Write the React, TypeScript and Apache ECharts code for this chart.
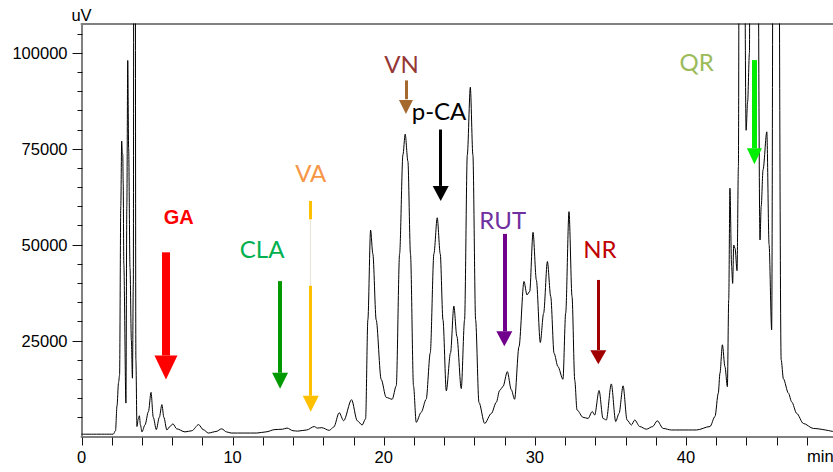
import React, { useEffect, useRef } from "react";
import * as echarts from "echarts";

// Chromatogram trace: [time (min), signal (uV)]
const traceTimes = [
  0, 2.1, 2.25, 2.35, 2.45, 2.52, 2.6, 2.66, 2.7, 2.73, 2.76, 2.8, 2.94, 3.0, 3.06, 3.12, 3.21, 3.3, 3.37, 3.43, 3.5, 3.6, 3.67,
  3.75, 3.83, 3.9, 4.0, 4.2, 4.43, 4.6, 4.75, 4.95, 5.15, 5.32, 5.45, 5.65, 5.85, 6.05, 6.3, 6.85, 7.3, 7.75, 8.05, 8.4, 8.9,
  9.28, 9.6, 9.9, 11.6, 12.2, 12.8, 13.3, 13.6, 14.0, 14.3, 14.9, 15.4, 15.6, 15.9, 16.4, 16.7, 17.05, 17.35, 17.87, 18.25,
  18.57, 18.8, 18.95, 19.13, 19.28, 19.5, 19.83, 20.16, 20.56, 20.83, 21.05, 21.27, 21.42, 21.6, 21.77, 21.97, 22.15, 22.48,
  22.81, 23.08, 23.32, 23.54, 23.74, 23.92, 24.14, 24.42, 24.64, 24.84, 25.13, 25.35, 25.53, 25.73, 25.9, 26.08, 26.3, 26.68,
  27.12, 27.45, 27.67, 27.89, 28.18, 28.44, 28.66, 28.95, 29.28, 29.48, 29.66, 29.88, 30.1, 30.36, 30.58, 30.83, 31.05, 31.27,
  31.53, 31.86, 32.04, 32.26, 32.46, 32.64, 32.79, 33.19, 33.52, 33.8, 33.96, 34.25, 34.51, 34.73, 35.06, 35.35, 35.57, 35.84,
  36.1, 36.39, 36.61, 36.94, 37.38, 37.8, 38.1, 38.49, 39.04, 39.6, 40.7, 41.59, 41.92, 42.14, 42.25, 42.41, 42.58, 42.74,
  42.83, 42.91, 43.02, 43.09, 43.16, 43.25, 43.38, 43.47, 43.55, 43.75, 43.98, 44.08, 44.2, 44.3, 44.6, 44.9, 44.98, 45.1,
  45.35, 45.5, 45.67, 45.85, 46.0, 46.3, 46.45, 46.78, 47.0, 47.33, 47.77, 48.43, 49.73,
];
const traceValues = [
  600, 600, 1500, 8000, 14000, 16000, 60000, 77000, 74000, 73500, 66000, 45000, 8700, 60000, 98000, 75000, 44000, 25000, 15200, 40000, 400000, 20000, 2600,
  4500, 5400, 3000, 1200, 3000, 6500, 11500, 5000, 1800, 5000, 8300, 5000, 1700, 2600, 3300, 2000, 1200, 1500, 3100, 1800, 900, 1300,
  2000, 1200, 900, 900, 1200, 1800, 1900, 2200, 1500, 1400, 1700, 2600, 2200, 2300, 1600, 2500, 6200, 4100, 9600, 4100,
  3000, 4600, 30400, 53800, 47600, 30400, 14900, 10200, 9700, 13200, 47600, 73400, 78800, 71700, 47600, 13200, 3700, 6300,
  9700, 21800, 47600, 57000, 47600, 30400, 11900, 21800, 34000, 26100, 12500, 30400, 73400, 91000, 73400, 30400, 8900, 3400,
  6000, 8900, 12000, 13000, 16900, 12200, 9700, 23400, 40400, 36900, 37800, 53200, 40800, 24500, 32100, 45600, 36500, 21700,
  18200, 14900, 32100, 58600, 36500, 14700, 6900, 5000, 4700, 6500, 5600, 12000, 4700, 4300, 13700, 3900, 6000, 13200,
  4300, 3000, 4300, 2600, 1900, 2600, 4100, 2100, 1700, 1700, 1700, 2600, 5200, 11300, 16500, 23900, 18200, 13000,
  35600, 64700, 44300, 39900, 49900, 49000, 43200, 70300, 200000, 250000, 79800, 87200, 100000, 300000, 300000, 51200, 60000, 69500,
  79400, 50000, 27800, 300000, 300000, 20000, 15000, 11300, 9000, 6000, 3400, 2100, 1300,
];

// Axis ticks and labels
const xTickValues = [0, 2, 4, 6, 8, 10, 12, 14, 16, 18, 20, 22, 24, 26, 28, 30, 32, 34, 36, 38, 40, 42, 44, 46, 48];
const xLabelValues = [0, 10, 20, 30, 40];
const yMajorTicks = [25000, 50000, 75000, 100000];
const yMinorTicks = [5000, 10000, 15000, 20000, 30000, 35000, 40000, 45000, 55000, 60000, 65000, 70000, 80000, 85000, 90000, 95000, 105000];
const xMax = 49.73;
const yMax = 107500;

// Annotations (compound markers)
const annNames = ["GA", "CLA", "VA", "VN", "p-CA", "RUT", "NR", "QR"];
const annLabelTimes = [6.43, 11.95, 15.17, 21.17, 23.66, 27.87, 34.31, 40.71];
const annLabelValues = [57300, 49100, 68700, 97100, 85000, 56600, 49100, 97700];
const annLabelColors = ["#ff0000", "#00b050", "#f79646", "#953735", "#000000", "#7030a0", "#c00000", "#9bbb59"];
const arrowTimes = [5.59, 13.14, 15.17, 21.47, 23.77, 27.98, 34.2, 44.53];
const arrowTops = [48000, 40500, 39300, 92800, 80000, 52800, 40800, 98100];
const arrowBases = [21100, 16600, 10600, 87900, 65300, 27400, 22550, 75100];
const arrowTips = [14900, 12500, 6500, 83800, 61400, 23500, 18800, 71000];
const arrowColors = ["#ff0000", "#009900", "#ffc000", "#a5692e", "#000000", "#70008c", "#a00000", "#00ee00"];
const arrowShaftWidths = [8, 4, 3, 3, 3, 4, 3, 5];
const arrowHeadSizes = [[23, 24], [16, 16], [16, 16], [14, 14], [16, 15], [16, 15], [16, 14], [15, 16]];
// VA arrow upper piece and faint middle piece
const vaUpper = [61400, 56600];
const vaMiddle = [56600, 39300];

const FONT = "'Liberation Sans', Arial, sans-serif";

export default function App() {
  const ref = useRef<HTMLDivElement>(null);

  useEffect(() => {
    if (!ref.current) return;
    const chart = echarts.init(ref.current, undefined, { renderer: "svg" });

    const trace = traceTimes.map((t, i) => [t, traceValues[i]]);

    const shafts: any[] = arrowTimes.map((t, i) => [
      {
        coord: [t, arrowTops[i]],
        lineStyle: { color: arrowColors[i], width: arrowShaftWidths[i], type: "solid" },
      },
      { coord: [t, arrowBases[i]] },
    ]);
    shafts.push([
      { coord: [arrowTimes[2], vaUpper[0]], lineStyle: { color: arrowColors[2], width: 3, type: "solid" } },
      { coord: [arrowTimes[2], vaUpper[1]] },
    ]);
    shafts.push([
      { coord: [arrowTimes[2], vaMiddle[0]], lineStyle: { color: "#e9e4d6", width: 1, type: "solid" } },
      { coord: [arrowTimes[2], vaMiddle[1]] },
    ]);

    const heads = arrowTimes.map((t, i) => ({
      coord: [t, (arrowBases[i] + arrowTips[i]) / 2],
      symbol: "triangle",
      symbolSize: arrowHeadSizes[i],
      symbolRotate: 180,
      itemStyle: { color: arrowColors[i] },
    }));

    const labels = annNames.map((n, i) => ({
      name: n,
      value: [annLabelTimes[i], annLabelValues[i]],
      label: {
        show: true,
        position: "inside",
        formatter: n,
        opacity: 1,
        color: annLabelColors[i],
        fontSize: i === 0 ? 20 : 24,
        fontWeight: i === 0 ? "bold" : "normal",
        fontFamily: i === 0 ? FONT : "Lato, 'Open Sans', sans-serif",
      },
    }));

    const axisLineStyle = { show: true, lineStyle: { color: "#808080", width: 2 } };
    const minText = {
      type: "text",
      left: 807,
      top: 447,
      style: { text: "min", fontSize: 16.5, fontFamily: FONT, fill: "#000" },
    };

    chart.setOption({
      animation: false,
      backgroundColor: "#ffffff",
      grid: { left: 81.5, right: 0, top: 24, bottom: 35.5 },
      xAxis: [
        {
          type: "value",
          min: 0,
          max: xMax,
          position: "bottom",
          axisLine: axisLineStyle,
          axisTick: { show: false },
          axisLabel: { show: true, customValues: xLabelValues, fontSize: 16.5, color: "#000", fontFamily: FONT, margin: 12 },
          splitLine: { show: false },
        },
        {
          type: "value",
          min: 0,
          max: xMax,
          position: "top",
          axisLine: axisLineStyle,
          axisTick: { show: false },
          axisLabel: { show: false },
          splitLine: { show: false },
        },
      ],
      yAxis: [
        {
          type: "value",
          min: 0,
          max: yMax,
          position: "left",
          name: "uV",
          nameLocation: "end",
          nameGap: 9,
          nameTextStyle: { fontSize: 16.5, color: "#000", fontFamily: FONT, align: "center", verticalAlign: "middle" },
          axisLine: axisLineStyle,
          axisTick: { show: false },
          axisLabel: {
            show: true,
            customValues: yMajorTicks,
            fontSize: 16.5,
            color: "#000",
            fontFamily: FONT,
            margin: 14,
            formatter: (v: number) => String(v),
          },
          splitLine: { show: false },
        },
      ],
      graphic: [minText],
      series: [
        {
          type: "line",
          data: trace,
          showSymbol: false,
          symbol: "none",
          smooth: 0.3,
          smoothMonotone: "x",
          clip: true,
          lineStyle: { color: "#000000", width: 1 },
          silent: true,
          z: 2,
          markLine: {
            silent: true,
            symbol: ["none", "none"],
            label: { show: false },
            emphasis: { disabled: true },
            data: shafts,
            z: 5,
          },
          markPoint: {
            silent: true,
            label: { show: false },
            emphasis: { disabled: true },
            data: heads,
            z: 5,
          },
        },
        {
          type: "scatter",
          data: labels,
          symbol: "circle",
          symbolSize: 2,
          itemStyle: { color: "rgba(0,0,0,0)", opacity: 1 },
          silent: true,
          z: 6,
        },
      ],
    });

    // Axis ticks positioned through the chart's own scales
    const finder = { gridIndex: 0 };
    const tickEls: any[] = [];
    const addTick = (pt: number[] | null, dx: number, dy: number) => {
      if (!pt) return;
      const x = Math.round(pt[0]) + 0.5;
      const y = Math.round(pt[1]) + 0.5;
      tickEls.push({
        type: "line",
        z: 50,
        silent: true,
        shape: { x1: x, y1: y, x2: x + dx, y2: y + dy },
        style: { stroke: "#111111", lineWidth: 1 },
      });
    };
    xTickValues.forEach((v) => addTick(chart.convertToPixel(finder, [v, 0]) as any, 0, 8));
    yMajorTicks.forEach((v) => addTick(chart.convertToPixel(finder, [0, v]) as any, -10, 0));
    yMinorTicks.forEach((v) => addTick(chart.convertToPixel(finder, [0, v]) as any, -5, 0));
    chart.setOption({ graphic: [minText, ...tickEls] });

    return () => chart.dispose();
  }, []);

  return (
    <div
      ref={ref}
      style={{ position: "fixed", left: 0, top: 0, width: 833, height: 472, background: "#fff" }}
    />
  );
}
